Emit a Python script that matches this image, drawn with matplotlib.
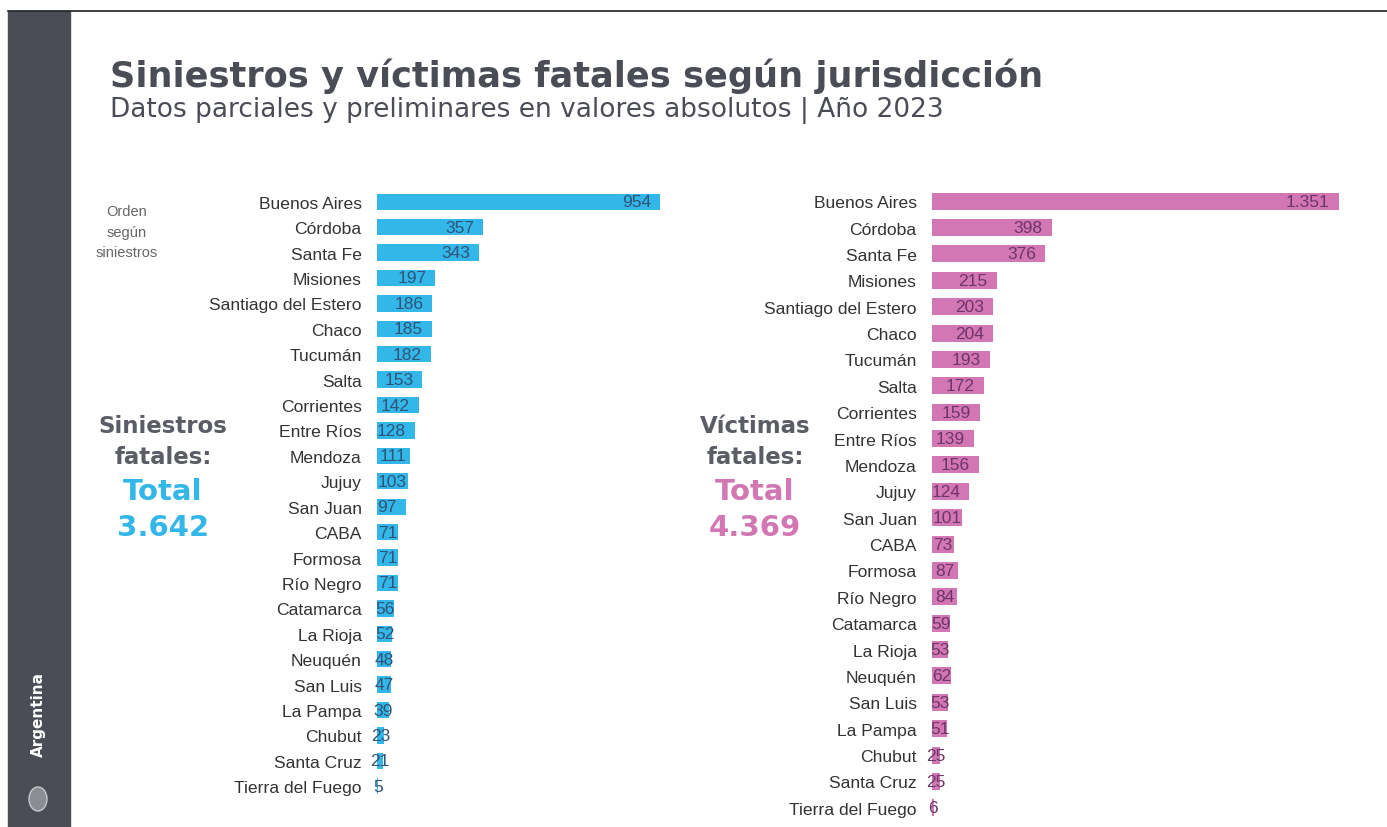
import matplotlib.pyplot as plt
from matplotlib.patches import Rectangle, Ellipse

jurisdicciones_sin = ['Buenos Aires', 'Córdoba', 'Santa Fe', 'Misiones', 'Santiago del Estero',
                      'Chaco', 'Tucumán', 'Salta', 'Corrientes', 'Entre Ríos', 'Mendoza', 'Jujuy',
                      'San Juan', 'CABA', 'Formosa', 'Río Negro', 'Catamarca', 'La Rioja',
                      'Neuquén', 'San Luis', 'La Pampa', 'Chubut', 'Santa Cruz', 'Tierra del Fuego']
siniestros = [954, 357, 343, 197, 186, 185, 182, 153, 142, 128, 111, 103,
              97, 71, 71, 71, 56, 52, 48, 47, 39, 23, 21, 5]

jurisdicciones_vic = list(jurisdicciones_sin)
victimas = [1351, 398, 376, 215, 203, 204, 193, 172, 159, 139, 156, 124,
            101, 73, 87, 84, 59, 53, 62, 53, 51, 25, 25, 6]

total_sin = '3.642'
total_vic = '4.369'

AZUL = '#33b6e8'
ROSA = '#d276b4'
GRIS = '#4a4d56'
FUENTE = 'Liberation Sans'

W, H = 1387, 828
fig = plt.figure(figsize=(W / 100, H / 100), dpi=100)
fig.patch.set_facecolor('white')


def px(x0, y0, w, h):
    # caja en pixeles (desde arriba a la izquierda) -> fraccion de figura
    return [x0 / W, 1 - (y0 + h) / H, w / W, h / H]


# barra lateral y linea superior
fig.add_artist(Rectangle((8 / W, 0), 62 / W, 1 - 12 / H, transform=fig.transFigure,
                         color=GRIS, zorder=0))
fig.add_artist(plt.Line2D([8 / W, 1], [1 - 12 / H, 1 - 12 / H], transform=fig.transFigure,
                          color='#222222', lw=1.2))
fig.text(38 / W, 1 - 715 / H, 'Argentina', rotation=90, color='white', fontsize=11,
         fontweight='bold', family='DejaVu Sans', ha='center', va='center')
fig.add_artist(Ellipse((38 / W, 1 - 800 / H), 18 / W, 24 / H, transform=fig.transFigure,
                       facecolor='#8a8d94', edgecolor='#c8c9cc', lw=1))

# titulos
fig.text(110 / W, 1 - 76 / H, 'Siniestros y víctimas fatales según jurisdicción',
         fontsize=25.3, fontweight='bold', color=GRIS, family='DejaVu Sans', va='center')
fig.text(110 / W, 1 - 111 / H, 'Datos parciales y preliminares en valores absolutos | Año 2023',
         fontsize=19, color=GRIS, family='DejaVu Sans', va='center')


def panel(box, labels, values, color, txtcolor, xmax):
    ax = fig.add_axes(px(*box))
    pos = range(len(values))
    ax.barh(pos, values, height=0.64, color=color)
    ax.set_ylim(len(values) - 0.5, -0.5)
    ax.set_xlim(0, xmax)
    ax.set_yticks(list(pos))
    ax.set_yticklabels(labels, fontsize=12.6, color='#333333', family=FUENTE)
    ax.tick_params(axis='y', length=0, pad=11)
    ax.set_xticks([])
    for s in ax.spines.values():
        s.set_visible(False)
    upp = xmax / box[2]  # unidades por pixel
    for i, v in enumerate(values):
        txt = f'{v:,}'.replace(',', '.')
        ancho = 7.5 * len(txt)
        if v / upp > ancho + 12:
            ax.annotate(txt, (v, i), xytext=(-6.5, 0), textcoords='offset points',
                        ha='right', va='center', fontsize=12.5, color=txtcolor, family=FUENTE)
        else:
            ax.annotate(txt, (v / 2, i), ha='center', va='center',
                        fontsize=12.5, color=txtcolor, family=FUENTE)
    return ax


panel((377, 190, 303, 610), jurisdicciones_sin, siniestros, AZUL, '#2f5478', 1021)
panel((932, 189, 415, 633), jurisdicciones_vic, victimas, ROSA, '#6e3568', 1379)

# nota de orden
for i, t in enumerate(['Orden', 'según', 'siniestros']):
    fig.text(127 / W, 1 - (212 + 20.5 * i) / H, t, fontsize=10.5, color='#666666',
             family=FUENTE, ha='center', va='center')


def total(xc, l1, l2, val, color):
    fig.text(xc / W, 1 - 427 / H, l1, fontsize=16.5, fontweight='bold', color='#5a5d65',
             family='DejaVu Sans', ha='center', va='center')
    fig.text(xc / W, 1 - 458 / H, l2, fontsize=16.5, fontweight='bold', color='#5a5d65',
             family='DejaVu Sans', ha='center', va='center')
    fig.text(xc / W, 1 - 492 / H, 'Total', fontsize=21, fontweight='bold', color=color,
             family='DejaVu Sans', ha='center', va='center')
    fig.text(xc / W, 1 - 528 / H, val, fontsize=21, fontweight='bold', color=color,
             family='DejaVu Sans', ha='center', va='center')


total(163, 'Siniestros', 'fatales:', total_sin, AZUL)
total(755, 'Víctimas', 'fatales:', total_vic, ROSA)

fig.savefig('out.png', dpi=100)
